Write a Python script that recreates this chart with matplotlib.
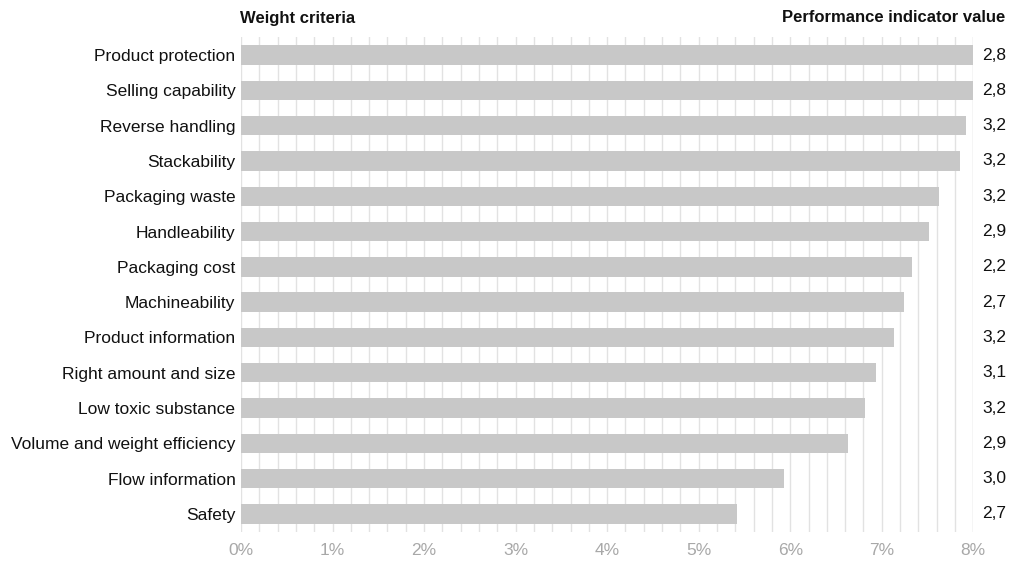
import numpy as np
import matplotlib
matplotlib.use('Agg')
import matplotlib.pyplot as plt

# データ（上から順）
criteria = ['Product protection', 'Selling capability', 'Reverse handling',
            'Stackability', 'Packaging waste', 'Handleability', 'Packaging cost',
            'Machineability', 'Product information', 'Right amount and size',
            'Low toxic substance', 'Volume and weight efficiency',
            'Flow information', 'Safety']
weights = [8.0, 8.0, 7.92, 7.85, 7.63, 7.52, 7.33, 7.24, 7.13, 6.94,
           6.82, 6.63, 5.93, 5.42]
indicator = ['2,8', '2,8', '3,2', '3,2', '3,2', '2,9', '2,2', '2,7', '3,2',
             '3,1', '3,2', '2,9', '3,0', '2,7']
xticks = [0, 1, 2, 3, 4, 5, 6, 7, 8]

plt.rcParams['font.family'] = ['Liberation Sans', 'DejaVu Sans']
fs = 12.5

fig = plt.figure(figsize=(10.17, 5.62), dpi=100)
ax = fig.add_axes([241/1017, 1 - 531.6/562, (973.3 - 241)/1017, (531.6 - 37.4)/562])

y = np.arange(len(criteria))

# グリッド線（0.2%刻み）
for gx in np.arange(0, 8.01, 0.2):
    ax.axvline(gx, color='#cfcfcf' if abs(gx - 8) < 1e-6 else '#e2e2e2',
               lw=1.0, zorder=0)

ax.barh(y, weights, height=0.55, color='#c8c8c8', zorder=2)

ax.set_xlim(0, 8)
ax.set_ylim(len(criteria) - 0.5, -0.5)
ax.set_yticks(y)
ax.set_yticklabels(criteria, fontsize=fs, color='#111111')
ax.set_xticks(xticks)
ax.set_xticklabels([f'{t}%' for t in xticks], fontsize=fs, color='#a8a8a8')
ax.tick_params(axis='both', length=0)
ax.tick_params(axis='y', pad=4)
ax.tick_params(axis='x', pad=8)
for s in ax.spines.values():
    s.set_visible(False)

# 右側の値
for yi, v in zip(y, indicator):
    ax.annotate(v, xy=(1, yi), xycoords=('axes fraction', 'data'),
                xytext=(6.5, 0), textcoords='offset points',
                ha='left', va='center', fontsize=fs, color='#111111')

# 見出し
fig.text(240/1017, 1 - 18/562, 'Weight criteria', fontsize=12,
         fontweight='bold', ha='left', va='center', color='#111111')
fig.text(1005/1017, 1 - 18/562, 'Performance indicator value', fontsize=12,
         fontweight='bold', ha='right', va='center', color='#111111')

fig.savefig('out.png', dpi=100)
